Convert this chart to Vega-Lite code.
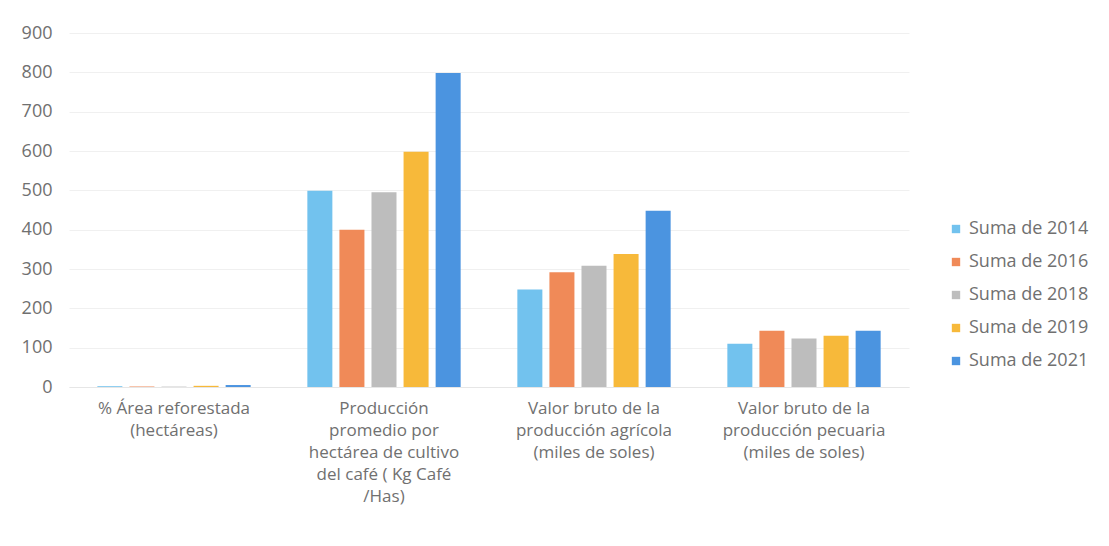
{
  "$schema": "https://vega.github.io/schema/vega-lite/v6.json",
  "width": 840,
  "height": 354,
  "padding": {"left": 21, "top": 24, "right": 5, "bottom": 5},
  "background": "#ffffff",
  "config": {
    "font": "Open Sans",
    "view": {"stroke": null}
  },
  "data": {
    "values": [
      {"cat": "% Área reforestada|(hectáreas)", "serie": "Suma de 2014", "valor": 2},
      {"cat": "% Área reforestada|(hectáreas)", "serie": "Suma de 2016", "valor": 1},
      {"cat": "% Área reforestada|(hectáreas)", "serie": "Suma de 2018", "valor": 1},
      {"cat": "% Área reforestada|(hectáreas)", "serie": "Suma de 2019", "valor": 3},
      {"cat": "% Área reforestada|(hectáreas)", "serie": "Suma de 2021", "valor": 5},
      {"cat": "Producción|promedio por|hectárea de cultivo|del café ( Kg Café|/Has)", "serie": "Suma de 2014", "valor": 499},
      {"cat": "Producción|promedio por|hectárea de cultivo|del café ( Kg Café|/Has)", "serie": "Suma de 2016", "valor": 400},
      {"cat": "Producción|promedio por|hectárea de cultivo|del café ( Kg Café|/Has)", "serie": "Suma de 2018", "valor": 495},
      {"cat": "Producción|promedio por|hectárea de cultivo|del café ( Kg Café|/Has)", "serie": "Suma de 2019", "valor": 598},
      {"cat": "Producción|promedio por|hectárea de cultivo|del café ( Kg Café|/Has)", "serie": "Suma de 2021", "valor": 798},
      {"cat": "Valor bruto de la|producción agrícola|(miles de soles)", "serie": "Suma de 2014", "valor": 248},
      {"cat": "Valor bruto de la|producción agrícola|(miles de soles)", "serie": "Suma de 2016", "valor": 292},
      {"cat": "Valor bruto de la|producción agrícola|(miles de soles)", "serie": "Suma de 2018", "valor": 308},
      {"cat": "Valor bruto de la|producción agrícola|(miles de soles)", "serie": "Suma de 2019", "valor": 338},
      {"cat": "Valor bruto de la|producción agrícola|(miles de soles)", "serie": "Suma de 2021", "valor": 448},
      {"cat": "Valor bruto de la|producción pecuaria|(miles de soles)", "serie": "Suma de 2014", "valor": 110},
      {"cat": "Valor bruto de la|producción pecuaria|(miles de soles)", "serie": "Suma de 2016", "valor": 143},
      {"cat": "Valor bruto de la|producción pecuaria|(miles de soles)", "serie": "Suma de 2018", "valor": 123},
      {"cat": "Valor bruto de la|producción pecuaria|(miles de soles)", "serie": "Suma de 2019", "valor": 130},
      {"cat": "Valor bruto de la|producción pecuaria|(miles de soles)", "serie": "Suma de 2021", "valor": 143}
    ]
  },
  "mark": {"type": "bar"},
  "encoding": {
    "x": {
      "field": "cat",
      "type": "nominal",
      "sort": null,
      "scale": {"paddingInner": 0.27, "paddingOuter": 0.135},
      "axis": {
        "title": null,
        "labelAngle": 0,
        "labelExpr": "split(datum.label, '|')",
        "labelFontSize": 17,
        "labelLineHeight": 22,
        "labelColor": "#707070",
        "labelPadding": 13,
        "labelBaseline": "top",
        "ticks": false,
        "domain": true,
        "domainColor": "#e6e6e6",
        "grid": false,
        "labelLimit": 300
      }
    },
    "xOffset": {
      "field": "serie",
      "type": "nominal",
      "scale": {"paddingInner": 0.22}
    },
    "y": {
      "field": "valor",
      "type": "quantitative",
      "scale": {"domain": [0, 900]},
      "axis": {
        "title": null,
        "values": [0, 100, 200, 300, 400, 500, 600, 700, 800, 900],
        "labelFontSize": 18,
        "labelColor": "#707070",
        "labelPadding": 17,
        "ticks": false,
        "domain": false,
        "gridColor": "#f0f0f0",
        "gridWidth": 1
      }
    },
    "color": {
      "field": "serie",
      "type": "nominal",
      "scale": {
        "domain": ["Suma de 2014", "Suma de 2016", "Suma de 2018", "Suma de 2019", "Suma de 2021"],
        "range": ["#72C2EE", "#F08A58", "#BDBDBD", "#F7B93A", "#4B94E0"]
      },
      "legend": {
        "title": null,
        "orient": "none",
        "legendX": 878,
        "legendY": 187,
        "symbolType": "square",
        "symbolSize": 70,
        "symbolStrokeWidth": 0,
        "labelFontSize": 18,
        "labelColor": "#707070",
        "labelOffset": 4,
        "rowPadding": 15
      }
    }
  }
}
